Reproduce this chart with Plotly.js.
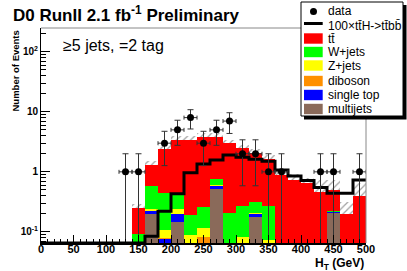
<!DOCTYPE html>
<html><head><meta charset="utf-8">
<script src="https://cdn.plot.ly/plotly-3.0.1.min.js"></script>
<style>html,body{margin:0;padding:0;background:#fff}#chart{width:407px;height:271px}</style>
</head><body><div id="chart"></div>
<script>
// ---- data ----
const binWidth = 20;
const mcBinCenters = [150,170,190,210,230,250,270,290,310,330,350,370,390,410,430,450,470,490];
const multijets = [0,0.195,0,0.147,0,0,0.515,0,0,0.178,0,0,0,0,0,0.21,0,0];
const singleTop = [0,0.029,0.075,0.048,0,0,0.065,0,0,0.022,0,0,0,0,0,0.005,0,0];
const diboson   = [0,0.002,0.003,0.003,0,0.082,0.005,0,0,0,0,0,0,0,0,0,0,0];
const zjets     = [0,0.016,0.03,0.038,0.09,0.032,0.015,0,0.082,0.01,0.073,0,0,0,0,0.002,0,0];
const wjets     = [0.094,0.338,0.329,0.184,0.1,0.146,0.15,0.207,0.188,0.11,0.197,0,0,0,0,0.003,0,0];
const ttbar     = [0.156,0.71,1.924,2.96,3.19,3.57,3.08,2.76,2.18,1.75,1.35,0.88,0.73,0.64,0.46,0.27,0.2,0.4];
const mcErrUp   = [0.04,0.23,0.4,0.5,0.5,0.55,0.55,0.45,0.35,0.3,0.28,0.17,0.2,0.14,0.27,0.24,0.12,0.24];
// 100 x ttH signal, 25 bins of 20 GeV from 0 to 500
const signal = [0,0,0,0,0,0,0,0,0.085,0.22,0.43,0.97,1.35,1.57,1.9,1.75,1.62,1.5,1.07,0.85,0.72,0.55,0.44,0.44,0.73];
const dataX = [130,150,190,210,230,250,270,290,310,330,350,370,430,450,490];
const dataY = [1,1,3,5,8,3,5,7,2,2,1,1,1,1,1];
const yTickVals = [0.1,1,10,100];
const yTickText = ['10<sup>-1</sup>','1','10','10<sup>2</sup>'];

// ---- layout constants ----
const FONT = 'Liberation Sans, Arial, Helvetica, sans-serif';
const W = 407, H = 271, L = 41, R = 41, T = 28, B = 28;
const yLogMin = -1.185, yLogMax = 2.395;
const pw = W - L - R, ph = H - T - B;
const px = X => (X - L) / pw;
const py = Y => (H - B - Y) / ph;

const colors = {tt:'#ff0000', w:'#00ff00', z:'#ffff00', db:'#ff9000', st:'#0000ff', mj:'#8a6a5a'};

function barTrace(name, vals, color) {
  return {type:'bar', x: mcBinCenters, y: vals, width: binWidth, name,
    marker:{color, line:{width:0}}, hoverinfo:'skip', showlegend:false};
}
const traces = [
  barTrace('multijets', multijets, colors.mj),
  barTrace('single top', singleTop, colors.st),
  barTrace('diboson', diboson, colors.db),
  barTrace('Z+jets', zjets, colors.z),
  barTrace('W+jets', wjets, colors.w),
  barTrace('ttbar', ttbar, colors.tt),
  {type:'bar', x: mcBinCenters, y: mcErrUp, width: binWidth, showlegend:false, hoverinfo:'skip',
   marker:{color:'rgba(0,0,0,0)', line:{width:0},
     pattern:{shape:'/', fgcolor:'#444', bgcolor:'rgba(0,0,0,0)', size:5, solidity:0.25, fillmode:'overlay'}}}
];
// signal step line
const yMinVal = Math.pow(10, yLogMin);
const sigX = [], sigY = [];
for (let i = 0; i <= signal.length; i++) {
  sigX.push(i * binWidth);
  const v = signal[Math.min(i, signal.length - 1)];
  sigY.push(Math.max(v, yMinVal));
}
traces.push({type:'scatter', mode:'lines', x: sigX, y: sigY, line:{shape:'hv', color:'#000', width:3},
  showlegend:false, hoverinfo:'skip'});
// data points
traces.push({type:'scatter', mode:'markers', x: dataX, y: dataY, showlegend:false, hoverinfo:'skip',
  marker:{color:'#000', size:7},
  error_y:{type:'data', array: dataY.map(Math.sqrt), color:'#333', thickness:1, width:3},
  error_x:{type:'data', array: dataX.map(() => binWidth/2), color:'#333', thickness:1, width:2}});

// minor ticks for log axis
const yMinor = [];
for (let d = -2; d <= 2; d++) for (let k = 2; k <= 9; k++) {
  const v = k * Math.pow(10, d);
  if (Math.log10(v) > yLogMin && Math.log10(v) < yLogMax) yMinor.push(v);
}

// legend drawn with shapes & annotations
const shapes = [
  {type:'line', xref:'paper', yref:'paper', x0:px(L), x1:px(W-R), y0:1, y1:1, line:{color:'#888', width:1}},
  {type:'line', xref:'paper', yref:'paper', x0:1, x1:1, y0:0, y1:1, line:{color:'#888', width:1}},
  {type:'rect', xref:'paper', yref:'paper', x0:px(304), x1:px(406.5), y0:py(119.5), y1:py(5), fillcolor:'#000', line:{width:0}},
  {type:'rect', xref:'paper', yref:'paper', x0:px(301), x1:px(403), y0:py(116), y1:py(2), fillcolor:'#fff', line:{color:'#000', width:1}},
  {type:'circle', xref:'paper', yref:'paper', x0:px(310), x1:px(317), y0:py(15), y1:py(8), fillcolor:'#000', line:{width:0}},
  {type:'line', xref:'paper', yref:'paper', x0:px(304), x1:px(322.7), y0:py(23.5), y1:py(23.5), line:{color:'#000', width:3}}
];
const annotations = [
  {text:'data', x:px(326), y:py(11.5)},
  {text:'100×tt̄H->tt̄bb̄', x:px(326), y:py(26)}
];
const legBoxes = [['tt̄', colors.tt, 38.5],['W+jets', colors.w, 52],['Z+jets', colors.z, 65.5],
  ['diboson', colors.db, 81],['single top', colors.st, 95],['multijets', colors.mj, 109]];
legBoxes.forEach(([t, c, yc]) => {
  shapes.push({type:'rect', xref:'paper', yref:'paper', x0:px(304), x1:px(322.7), y0:py(yc+5.2), y1:py(yc-5.2),
    fillcolor:c, line:{color:'#fff', width:0}});
  annotations.push({text:t, x:px(326), y:py(yc)});
});
annotations.forEach(a => Object.assign(a, {xref:'paper', yref:'paper', xanchor:'left', yanchor:'middle',
  showarrow:false, font:{family:FONT, size:12, color:'#000'}}));
annotations.push(
  {text:'<b>D0 RunII 2.1 fb<sup>-1</sup> Preliminary</b>', xref:'paper', yref:'paper', x:px(11), y:py(14),
   xanchor:'left', yanchor:'middle', showarrow:false, font:{family:FONT, size:17, color:'#000'}},
  {text:'≥5 jets, =2 tag', xref:'paper', yref:'paper', x:px(61), y:py(45),
   xanchor:'left', yanchor:'middle', showarrow:false, font:{family:FONT, size:16, color:'#000'}},
  {text:'<b>Number of Events</b>', xref:'paper', yref:'paper', x:px(15), y:py(71.5), textangle:-90,
   xanchor:'center', yanchor:'middle', showarrow:false, font:{family:FONT, size:9.5, color:'#000'}},
  {text:'<b>H<sub>T</sub> (GeV)</b>', xref:'paper', yref:'paper', x:px(366), y:py(263.5),
   xanchor:'right', yanchor:'middle', showarrow:false, font:{family:FONT, size:12, color:'#000'}}
);

const layout = {
  width: W, height: H, margin:{l:L, r:R, t:T, b:B, pad:0},
  paper_bgcolor:'#fff', plot_bgcolor:'#fff',
  barmode:'stack', bargap:0, showlegend:false,
  font:{family:FONT, color:'#000'},
  xaxis:{range:[0,500], tickmode:'linear', tick0:0, dtick:50, ticks:'inside', ticklen:8, tickcolor:'#000',
    showgrid:false, zeroline:false, showline:true, linecolor:'#000', linewidth:1.5,
    ticklabelstandoff:-5,
    tickfont:{family:FONT, size:11, weight:'bold'},
    minor:{ticks:'inside', ticklen:4, dtick:10, tickcolor:'#000', showgrid:false}},
  yaxis:{type:'log', range:[yLogMin, yLogMax], tickmode:'array', tickvals:yTickVals, ticktext:yTickText,
    ticks:'inside', ticklen:9, tickcolor:'#000', showgrid:false, zeroline:false, showline:true,
    linecolor:'#000', linewidth:1, tickfont:{family:FONT, size:10, weight:'bold'},
    minor:{ticks:'inside', ticklen:5, tickmode:'array', tickvals:yMinor, tickcolor:'#000', showgrid:false}},
  shapes, annotations
};
Plotly.newPlot('chart', traces, layout, {staticPlot:true, displayModeBar:false});
</script></body></html>
